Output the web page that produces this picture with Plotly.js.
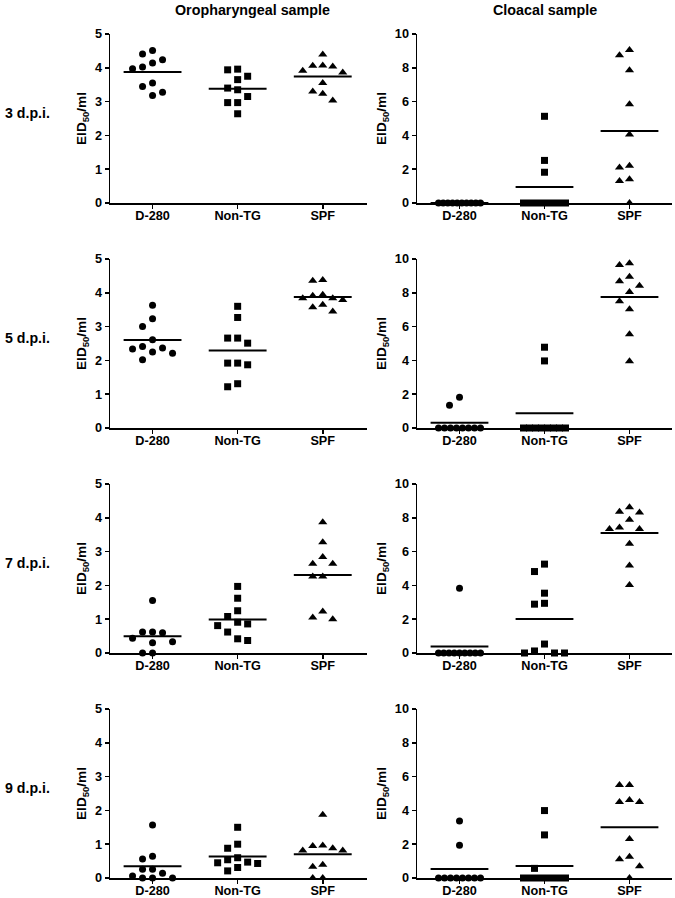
<!DOCTYPE html>
<html>
<head>
<meta charset="utf-8">
<script src="https://cdn.plot.ly/plotly-3.0.1.min.js"></script>
<style>
  html, body { margin: 0; padding: 0; background: #ffffff; }
  #chart { width: 675px; height: 898px; }
</style>
</head>
<body>
<div id="chart"></div>
<script>
// ---------- DATA ----------
const groups = ["D-280", "Non-TG", "SPF"];
const rowLabels = ["3 d.p.i.", "5 d.p.i.", "7 d.p.i.", "9 d.p.i."];
const colTitles = ["Oropharyngeal sample", "Cloacal sample"];
const yTitle = "EID<sub>50</sub>/ml";

// Oropharyngeal sample (log10 EID50/ml)
const oro3_D280  = [4.51, 4.41, 4.24, 4.14, 3.97, 4.02, 3.45, 3.55, 3.18, 3.28];
const oro3_NonTG = [3.94, 3.96, 3.75, 3.65, 3.35, 3.40, 3.15, 2.97, 2.97, 2.64];
const oro3_SPF   = [4.39, 4.07, 4.04, 4.06, 3.86, 3.91, 3.55, 3.30, 3.23, 3.03];

const oro5_D280  = [3.63, 3.23, 3.00, 2.61, 2.37, 2.25, 2.34, 2.02, 2.41, 2.21];
const oro5_NonTG = [3.60, 3.27, 2.66, 2.66, 2.51, 1.92, 1.87, 1.92, 1.22, 1.31];
const oro5_SPF   = [4.36, 4.38, 3.91, 3.79, 3.84, 3.84, 3.94, 3.65, 3.45, 3.57];

const oro7_D280  = [1.55, 0.60, 0.62, 0.62, 0.44, 0.30, 0.33, 0, 0];
const oro7_NonTG = [1.97, 1.62, 1.25, 1.08, 0.86, 0.81, 0.91, 0.62, 0.37, 0.42];
const oro7_SPF   = [3.87, 3.28, 2.84, 2.64, 2.64, 2.26, 2.26, 1.23, 1.00, 1.05];

const oro9_D280  = [1.57, 0.64, 0.56, 0.14, 0.26, 0.26, 0, 0, 0, 0.06];
const oro9_NonTG = [1.50, 1.00, 0.88, 0.45, 0.60, 0.47, 0.54, 0.21, 0.31, 0.43];
const oro9_SPF   = [1.87, 0.96, 0.88, 0.81, 0.81, 0.95, 0.39, 0.33, 0, 0];

// Cloacal sample
const clo3_D280  = [0, 0, 0, 0, 0, 0, 0, 0, 0, 0];
const clo3_NonTG = [5.13, 2.52, 1.82, 0, 0, 0, 0, 0, 0, 0];
const clo3_SPF   = [9.05, 8.75, 7.85, 5.85, 4.05, 2.10, 2.20, 1.40, 1.30, 0];

const clo5_D280  = [1.82, 1.34, 0, 0, 0, 0, 0, 0, 0, 0];
const clo5_NonTG = [4.78, 3.97, 0, 0, 0, 0, 0, 0, 0, 0];
const clo5_SPF   = [9.75, 9.65, 8.68, 8.95, 8.42, 8.04, 7.50, 7.02, 5.55, 3.95];

const clo7_D280  = [3.83, 0, 0, 0, 0, 0, 0, 0, 0, 0];
const clo7_NonTG = [5.26, 4.82, 3.54, 2.94, 2.89, 0.53, 0, 0, 0, 0.12];
const clo7_SPF   = [8.62, 8.32, 8.36, 7.89, 7.33, 7.33, 7.43, 6.46, 5.18, 4.03];

const clo9_D280  = [3.38, 1.94, 0, 0, 0, 0, 0, 0, 0, 0];
const clo9_NonTG = [3.99, 2.55, 0.57, 0, 0, 0, 0, 0, 0, 0];
const clo9_SPF   = [5.51, 5.51, 4.49, 4.49, 4.62, 2.31, 1.11, 1.26, 0.69, 0];

const oroMax = 5, cloMax = 10;

// ---------- PANELS ----------
const panels = [
  [[oro3_D280, oro3_NonTG, oro3_SPF], [clo3_D280, clo3_NonTG, clo3_SPF]],
  [[oro5_D280, oro5_NonTG, oro5_SPF], [clo5_D280, clo5_NonTG, clo5_SPF]],
  [[oro7_D280, oro7_NonTG, oro7_SPF], [clo7_D280, clo7_NonTG, clo7_SPF]],
  [[oro9_D280, oro9_NonTG, oro9_SPF], [clo9_D280, clo9_NonTG, clo9_SPF]]
];

// ---------- GEOMETRY ----------
const W = 675, H = 898;
const colX = [[110, 367], [417, 672]];       // plot area px (left,right)
const xRange = [[-0.5, 2.52], [-0.5, 2.5]];
const rowTop = [34, 259, 484, 709];
const plotH = 169;
const symbols = ["circle", "square", "triangle-up"];
const FONT = "Arial, 'Liberation Sans', Helvetica, sans-serif";

// Column-scatter layout: spread overlapping points sideways (beeswarm)
function swarm(values, pxY) {
  const step = 10, dmin = 10, maxHalf = 21;
  const offs = new Array(values.length).fill(null);
  const placed = [];
  const byVal = {};
  values.forEach((v, i) => { (byVal[v] = byVal[v] || []).push(i); });
  Object.keys(byVal).forEach(k => {
    const idx = byVal[k];
    if (idx.length >= 4) {
      const m = idx.length;
      const sp = Math.min(step, 2 * maxHalf / (m - 1));
      idx.forEach((i, j) => {
        offs[i] = (j - (m - 1) / 2) * sp;
        placed.push({x: offs[i], y: values[i] * pxY});
      });
    }
  });
  const rest = values.map((v, i) => i).filter(i => offs[i] === null)
    .sort((a, b) => values[b] - values[a]);
  rest.forEach(i => {
    const y = values[i] * pxY;
    let chosen = null, bestX = 0, bestD = -1;
    for (const k of [0, -1, 1, -2, 2]) {
      const x = k * step;
      let md = Infinity;
      placed.forEach(p => { md = Math.min(md, Math.hypot(p.x - x, p.y - y)); });
      if (md >= dmin) { chosen = x; break; }
      if (md > bestD) { bestD = md; bestX = x; }
    }
    offs[i] = chosen !== null ? chosen : bestX;
    placed.push({x: offs[i], y: y});
  });
  return offs;
}

const mean = a => a.reduce((s, v) => s + v, 0) / a.length;

const traces = [];
const layout = {
  width: W, height: H,
  margin: {l: 0, r: 0, t: 0, b: 0},
  paper_bgcolor: "#ffffff", plot_bgcolor: "#ffffff",
  showlegend: false,
  font: {family: FONT, color: "#000000"},
  annotations: []
};

let n = 0;
for (let r = 0; r < 4; r++) {
  for (let c = 0; c < 2; c++) {
    n++;
    const xa = n === 1 ? "x" : "x" + n;
    const ya = n === 1 ? "y" : "y" + n;
    const yMax = c === 0 ? oroMax : cloMax;
    const pxPerX = (colX[c][1] - colX[c][0]) / (xRange[c][1] - xRange[c][0]);
    const pxPerY = plotH / yMax;
    panels[r][c].forEach((vals, g) => {
      const offs = swarm(vals, pxPerY);
      traces.push({
        type: "scatter", mode: "markers", xaxis: xa, yaxis: ya,
        x: vals.map((v, i) => g + offs[i] / pxPerX),
        y: vals,
        cliponaxis: false,
        marker: {symbol: symbols[g], size: g === 2 ? 8 : 7, color: "#000000", line: {width: 0}},
        hoverinfo: "y"
      });
      const m = mean(vals);
      traces.push({
        type: "scatter", mode: "lines", xaxis: xa, yaxis: ya,
        x: [g - 0.34, g + 0.34], y: [m, m],
        cliponaxis: false,
        line: {color: "#000000", width: 2},
        hoverinfo: "skip"
      });
    });
    const yTopPx = rowTop[r], yBotPx = rowTop[r] + plotH;
    layout["xaxis" + (n === 1 ? "" : n)] = {
      domain: [colX[c][0] / W, colX[c][1] / W],
      range: xRange[c], anchor: ya,
      tickmode: "array", tickvals: [0, 1, 2], ticktext: groups,
      showline: true, linecolor: "#000000", linewidth: 1.5,
      ticks: "outside", ticklen: 4, tickwidth: 1.5, tickcolor: "#000000",
      ticklabelstandoff: -4,
      showgrid: false, zeroline: false, fixedrange: true,
      tickfont: {family: FONT, size: 12.7, weight: "bold", color: "#000000"}
    };
    layout["yaxis" + (n === 1 ? "" : n)] = {
      domain: [(H - yBotPx) / H, (H - yTopPx) / H],
      range: [0, yMax], anchor: xa,
      tickmode: "linear", tick0: 0, dtick: c === 0 ? 1 : 2,
      showline: true, linecolor: "#000000", linewidth: 1.5,
      ticks: "outside", ticklen: 4, tickwidth: 1.5, tickcolor: "#000000",
      showgrid: false, zeroline: false, fixedrange: true,
      tickfont: {family: FONT, size: 12.7, weight: "bold", color: "#000000"},
      title: {text: yTitle, standoff: 5, font: {family: FONT, size: 13.6, weight: "bold", color: "#000000"}}
    };
  }
}

// column titles
const colCenters = [252, 545];
colTitles.forEach((t, i) => {
  layout.annotations.push({
    text: t, xref: "paper", yref: "paper",
    x: colCenters[i] / W, y: (H - 10) / H, xanchor: "center", yanchor: "middle",
    showarrow: false, font: {family: FONT, size: 14.3, weight: "bold", color: "#000000"}
  });
});
// row labels
rowLabels.forEach((t, r) => {
  layout.annotations.push({
    text: t, xref: "paper", yref: "paper",
    x: 3 / W, y: (H - (rowTop[r] + 79)) / H, xanchor: "left", yanchor: "middle",
    showarrow: false, font: {family: FONT, size: 14.2, weight: "bold", color: "#000000"}
  });
});

Plotly.newPlot("chart", traces, layout, {staticPlot: true, displayModeBar: false});
</script>
</body>
</html>
